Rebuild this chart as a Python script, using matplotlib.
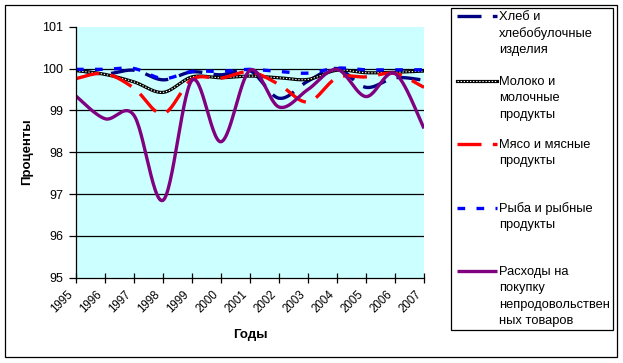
import numpy as np
import matplotlib
matplotlib.use("Agg")
import matplotlib.pyplot as plt
import matplotlib.transforms as mtransforms
from matplotlib.lines import Line2D
from matplotlib.patches import Rectangle

plt.rcParams['font.family'] = ['Liberation Sans', 'DejaVu Sans']

years = [1995, 1996, 1997, 1998, 1999, 2000, 2001, 2002, 2003, 2004, 2005, 2006, 2007]
bread = [99.97, 99.87, 99.96, 99.73, 99.92, 99.85, 99.95, 99.29, 99.70, 100.00, 99.55, 99.78, 99.72]
milk = [99.95, 99.86, 99.68, 99.43, 99.80, 99.78, 99.82, 99.78, 99.74, 99.96, 99.90, 99.91, 99.94]
meat = [99.76, 99.88, 99.53, 98.92, 99.74, 99.77, 99.92, 99.62, 99.20, 99.78, 99.80, 99.88, 99.55]
fish = [99.98, 99.98, 100.00, 99.76, 99.93, 99.93, 99.98, 99.93, 99.89, 100.01, 99.97, 99.97, 99.97]
spend = [99.34, 98.80, 98.88, 96.85, 99.72, 98.25, 99.96, 99.08, 99.50, 99.98, 99.33, 99.88, 98.57]

labels = ["Хлеб и\nхлебобулочные\nизделия",
          "Молоко и\nмолочные\nпродукты",
          "Мясо и мясные\nпродукты",
          "Рыба и рыбные\nпродукты",
          "Расходы на\nпокупку\nнепродовольствен\nных товаров"]
yticks = [95, 96, 97, 98, 99, 100, 101]

W, H = 623, 363


def smooth(xs, ys, n=30):
    """Excel-style smoothed line: cubic Bezier through every data point."""
    P = np.column_stack([np.asarray(xs, float), np.asarray(ys, float)])
    Pe = np.vstack([P[0], P, P[-1]])
    out = [P[0]]
    t = np.linspace(0, 1, n)[1:, None]
    for i in range(len(P) - 1):
        p0, p1, pm, pp = P[i], P[i + 1], Pe[i], Pe[i + 3]
        c1 = p0 + (p1 - pm) / 6.0
        c2 = p1 - (pp - p0) / 6.0
        seg = ((1 - t) ** 3) * p0 + 3 * ((1 - t) ** 2) * t * c1 + 3 * (1 - t) * t ** 2 * c2 + t ** 3 * p1
        out.extend(seg)
    out = np.array(out)
    return out[:, 0], out[:, 1]


def fx(px):
    return px / W


def fy(py):
    return 1 - py / H


fig = plt.figure(figsize=(W / 100, H / 100), dpi=100)
fig.patch.set_facecolor('white')

left, right, top, bottom = 76, 424, 26.7, 277.7
ax = fig.add_axes([fx(left), fy(bottom), fx(right) - fx(left), (bottom - top) / H])
ax.set_facecolor('#CCFFFF')
ax.set_xlim(1995, 2007)
ax.set_ylim(95, 101)

for v in yticks[1:-1]:
    ax.axhline(v, color='black', lw=0.9, zorder=1)

lw = 2.4
navy_style = dict(color='#000080', lw=lw, ls=(0, (7.2, 3.4)), dash_capstyle='butt')
red_style = dict(color='#FF0000', lw=lw, ls=(0, (7.2, 3.4)), dash_capstyle='butt')
blue_style = dict(color='#0000FF', lw=lw, ls=(0, (2.3, 3.4)), dash_capstyle='butt')
purple_style = dict(color='#800080', lw=lw, ls='-', solid_capstyle='butt')

x, y = smooth(years, bread)
ax.plot(x, y, zorder=3, **navy_style)
x, y = smooth(years, milk)
ax.plot(x, y, color='black', lw=2.3, zorder=4)
ax.plot(x, y, color='white', lw=0.8, ls=(0, (1.2, 1.6)), zorder=4)
x, y = smooth(years, meat)
ax.plot(x, y, zorder=5, **red_style)
x, y = smooth(years, fish)
ax.plot(x, y, zorder=6, **blue_style)
x, y = smooth(years, spend)
ax.plot(x, y, zorder=7, **purple_style)

ax.set_xticks(years)
ax.set_xticklabels([])
label_tr = ax.get_xaxis_transform() + mtransforms.ScaledTranslation(
    -9 / 100, -11 / 100, fig.dpi_scale_trans)
for yr in years:
    ax.text(yr, 0, str(yr), transform=label_tr, rotation=45, ha='right', va='top',
            rotation_mode='anchor', fontsize=8.3)
ax.set_yticks(yticks)
ax.set_yticklabels([str(v) for v in yticks], fontsize=9)
ax.tick_params(axis='x', direction='inout', length=7, width=0.9, pad=2)
ax.tick_params(axis='y', direction='out', length=5, width=0.9, pad=4)
for s in ['top', 'right']:
    ax.spines[s].set_visible(False)
for s in ['left', 'bottom']:
    ax.spines[s].set_linewidth(0.9)
    ax.spines[s].set_zorder(8)

fig.text(fx(27), fy(152), "Проценты", rotation=90, ha='center', va='center',
         fontsize=9.5, fontweight='bold')
fig.text(fx(250), fy(335), "Годы", ha='center', va='center', fontsize=9.5, fontweight='bold')

# chart border and legend box
fig.patches.append(Rectangle((fx(5), fy(357)), fx(617) - fx(5), (357 - 5) / H,
                             transform=fig.transFigure, fill=False, lw=0.9, ec='black'))
fig.patches.append(Rectangle((fx(451), fy(330)), fx(613) - fx(451), (330 - 8) / H,
                             transform=fig.transFigure, fill=False, lw=0.9, ec='black'))

# legend entries
entry_y = [16, 81, 144, 208, 271]
styles = [navy_style, None, red_style, blue_style, purple_style]
line_h = 16.3
for yy, st, lab in zip(entry_y, styles, labels):
    xs = [fx(457), fx(497)]
    ys = [fy(yy), fy(yy)]
    if st is None:
        fig.lines.append(Line2D(xs, ys, transform=fig.transFigure, color='black', lw=2.3))
        fig.lines.append(Line2D(xs, ys, transform=fig.transFigure, color='white', lw=0.8,
                                ls=(0, (1.2, 1.6))))
    else:
        fig.lines.append(Line2D(xs, ys, transform=fig.transFigure, **st))
    for k, part in enumerate(lab.split("\n")):
        fig.text(fx(499), fy(yy + 1 + k * line_h), part, ha='left', va='center', fontsize=9.3)

fig.savefig("out.png", dpi=100)
